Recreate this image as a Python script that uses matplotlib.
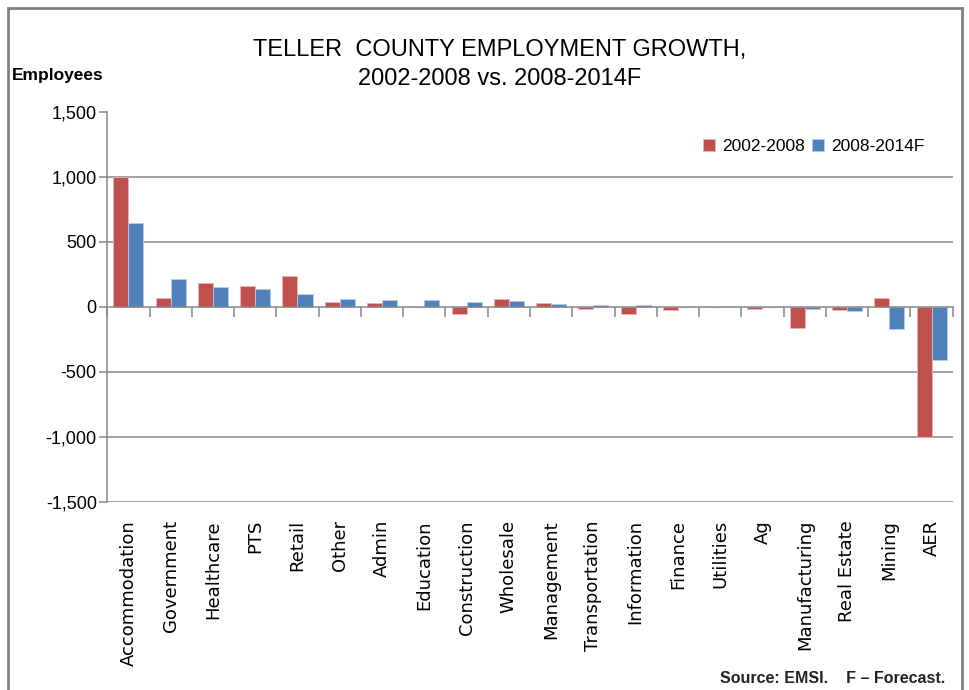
import matplotlib
matplotlib.use("Agg")
import matplotlib.pyplot as plt
import numpy as np
from matplotlib.patches import Rectangle
from matplotlib import font_manager

# --- data ---
industries = ["Accommodation", "Government", "Healthcare", "PTS", "Retail", "Other",
              "Admin", "Education", "Construction", "Wholesale", "Management",
              "Transportation", "Information", "Finance", "Utilities", "Ag",
              "Manufacturing", "Real Estate", "Mining", "AER"]
growth_2002_2008 = [1000, 72, 188, 160, 240, 42, 31, 0, -56, 62, 33,
                    -13, -54, -26, 0, -15, -165, -26, 72, -1000]
growth_2008_2014 = [645, 212, 150, 142, 100, 62, 52, 52, 42, 44, 23,
                    15, 15, 0, 0, 0, -15, -33, -172, -410]
yticks = [-1500, -1000, -500, 0, 500, 1000, 1500]

RED = "#C0504D"
BLUE = "#4F81BD"
GRID = "#868686"

installed = {f.name for f in font_manager.fontManager.ttflist}
narrow = "Liberation Sans Narrow" if "Liberation Sans Narrow" in installed else "Liberation Sans"
plt.rcParams["font.family"] = [narrow, "DejaVu Sans"]

fig = plt.figure(figsize=(9.69, 6.9), dpi=100)
ax = fig.add_axes([0.1107, 0.2725, 0.8725, 0.5652])

x = np.arange(len(industries))
w = 0.355
ax.bar(x - w / 2, growth_2002_2008, w, color=RED, edgecolor="#e8b8b6",
       linewidth=0.6, label="2002-2008", zorder=3)
ax.bar(x + w / 2, growth_2008_2014, w, color=BLUE, edgecolor="#b8cbe4",
       linewidth=0.6, label="2008-2014F", zorder=3)

ax.set_xlim(-0.5, len(industries) - 0.5)
ax.set_ylim(-1500, 1500)
ax.set_yticks(yticks)
ax.set_yticklabels([f"{v:,}" for v in yticks], fontsize=13)
for v in yticks[:-1]:
    if v != 0:
        ax.axhline(v, color=GRID, lw=1.1, zorder=1)

for s in ["top", "right"]:
    ax.spines[s].set_visible(False)
ax.spines["left"].set_color(GRID)
ax.spines["left"].set_linewidth(1.1)
ax.spines["bottom"].set_position(("data", 0))
ax.spines["bottom"].set_color(GRID)
ax.spines["bottom"].set_linewidth(1.1)
ax.spines["bottom"].set_zorder(4)
ax.tick_params(axis="y", direction="out", length=6, width=1.1, color=GRID, pad=1.5)

# category separators on the zero line
ax.set_xticks(np.arange(len(industries) + 1) - 0.5)
ax.set_xticklabels([])
ax.tick_params(axis="x", direction="out", length=7, width=1.1, color=GRID)

# category labels at the bottom of the plot
sec = ax.secondary_xaxis("bottom")
sec.set_xticks(x)
sec.set_xticklabels(industries, rotation=90, fontsize=13, family=["DejaVu Sans"])
sec.tick_params(length=0, pad=13)
sec.spines["bottom"].set_visible(False)

leg = ax.legend(loc="upper right", bbox_to_anchor=(0.985, 0.97), ncol=2, frameon=False,
                fontsize=12.5, handlelength=0.7, handleheight=0.7, handletextpad=0.4,
                columnspacing=0.4)

fig.text(0.516, 0.907, "TELLER  COUNTY EMPLOYMENT GROWTH,\n2002-2008 vs. 2008-2014F",
         ha="center", va="center", fontsize=17, linespacing=1.4)
fig.text(0.012, 0.891, "Employees", ha="left", va="center", fontsize=12.5,
         fontweight="bold")
fig.text(0.975, 0.017, "Source: EMSI.    F \u2013 Forecast.", ha="right", va="center",
         fontsize=11.5, fontweight="bold", color="#222222")

fig.patches.append(Rectangle((8 / 969, -0.05), 954 / 969, 1 - 8 / 690 + 0.05,
                             transform=fig.transFigure, fill=False,
                             edgecolor="#808080", lw=2))

fig.savefig("out.png", dpi=100)
